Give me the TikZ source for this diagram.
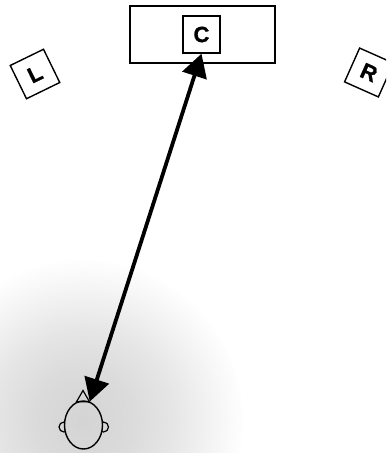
\documentclass[tikz,border=0pt]{standalone}
\usepackage{fontspec}
\setmainfont[BoldFeatures={FakeBold=1.2}]{Liberation Sans}
\usetikzlibrary{arrows.meta,shapes.geometric}
\pgfdeclareradialshading{headglow}{\pgfpoint{0bp}{0bp}}{%
 color(0bp)=(black!17); color(8bp)=(black!14); color(14bp)=(black!10); color(19bp)=(black!5.5); color(23bp)=(black!2); color(25.5bp)=(white); color(50bp)=(white)}
\tikzset{
 line/.style={draw=black,line width=1.4pt},
 spk/.style={line,fill=white,minimum size=37pt,inner sep=0pt,font=\bfseries\fontsize{22}{22}\selectfont},
 ear/.style={line,line width=1.2pt,minimum width=10pt,minimum height=10pt,ellipse,inner sep=0pt},
 link/.style={line width=3.8pt,{Triangle[length=23pt,width=25pt]}-{Triangle[length=23pt,width=25pt]}}
}
\begin{document}
\begin{tikzpicture}[x=1pt,y=-1pt]
\useasboundingbox (0,0) rectangle (386,453);
\begin{scope}
\clip (0,0) rectangle (386,453);
\shade[shading=headglow] (83,420) circle (160);
\node[line,fill=white,minimum width=145pt,minimum height=57pt,inner sep=0pt] (screen) at (202.5,34.5) {};
\node[spk] (cbox) at (201.5,34.5) {C};
\node[spk,rotate=26] (lbox) at (35,74) {L};
\node[spk,rotate=-24] (rbox) at (369,72.5) {R};
\node[ear] (earl) at (64,427) {};
\node[ear] (earr) at (103.5,427) {};
\begin{scope}
\clip (83.5,425) ellipse [x radius=19pt,y radius=24pt];
\shade[shading=headglow] (83,420) circle (160);
\end{scope}
\node[line,line width=1.2pt,regular polygon,regular polygon sides=3,minimum size=15pt,inner sep=0pt] (nose) at (83,398) {};
\node[line,ellipse,minimum width=38pt,minimum height=48pt,inner sep=0pt] (head) at (83.5,425) {};
\draw[link] (cbox.south) -- (head.75);
\end{scope}
\end{tikzpicture}
\end{document}
